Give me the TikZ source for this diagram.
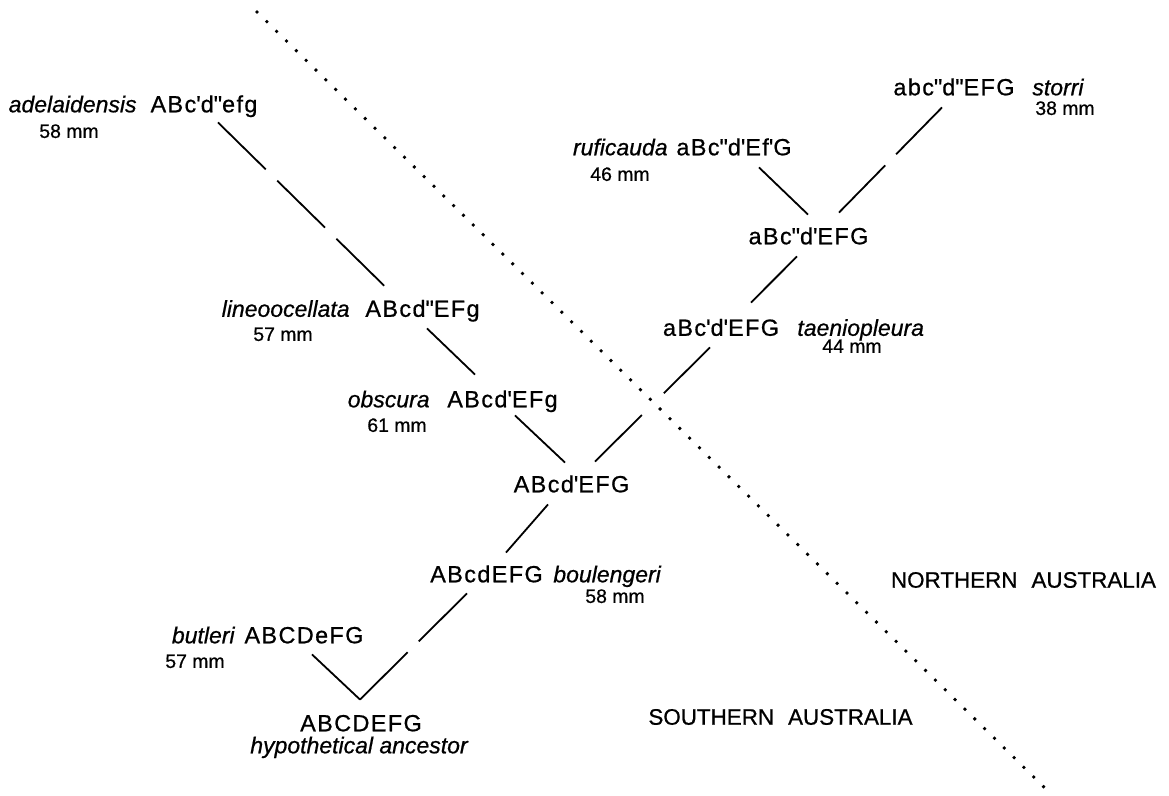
\documentclass[tikz,border=0pt]{standalone}
\usepackage{fontspec}
\setmainfont[FakeBold=0.7]{Liberation Sans}
\newfontfamily\formfont[LetterSpace=6,FakeBold=0.7]{Liberation Sans}
\usetikzlibrary{calc}
\newcommand{\sprime}{\textquotesingle}
\newcommand{\dprime}{\textquotedbl}
\begin{document}
\begin{tikzpicture}[x=0.5pt, y=-0.5pt,
    formula/.style={font=\formfont\fontsize{11.7}{13}\selectfont, inner sep=0pt, text height=8.3pt, text depth=0pt},
    spname/.style={font=\itshape\fontsize{11.5}{13}\selectfont, inner sep=0pt, text height=8.3pt, text depth=0pt},
    size/.style={font=\fontsize{9.7}{11}\selectfont, inner sep=0pt, text height=6.9pt, text depth=0pt},
    region/.style={font=\fontsize{11.2}{13}\selectfont, inner sep=0pt},
    branch/.style={line width=0.9pt}]
  \useasboundingbox (0,0) rectangle (1169,796);

  % Boundary north / south
  \coordinate (dotA) at (257,12);
  \coordinate (dotB) at (1051,794);
  \draw [line width=1.9pt, line cap=round, dash pattern=on 0pt off 6.9pt] (dotA) -- (dotB);
  \node [region] (north) at (1023.5,580) {NORTHERN\hspace{7pt}AUSTRALIA};
  \node [region] (south) at (780.5,717) {SOUTHERN\hspace{7pt}AUSTRALIA};

  % Formulae
  \node [formula] (adelF)  at (204,104)   {ABc\sprime d\dprime efg};
  \node [formula] (lineoF) at (422.5,308.5) {ABcd\dprime EFg};
  \node [formula] (obscF)  at (502.5,399) {ABcd\sprime EFg};
  \node [formula] (midF)   at (571.5,484) {ABcd\sprime EFG};
  \node [formula] (taenF)  at (721,327.5) {aBc\sprime d\sprime EFG};
  \node [formula] (upF)    at (808.5,236) {aBc\dprime d\sprime EFG};
  \node [formula] (rufiF)  at (734,147)   {aBc\dprime d\sprime Ef\sprime G};
  \node [formula] (storF)  at (954,87)    {abc\dprime d\dprime EFG};
  \node [formula] (boulF)  at (486.5,574) {ABcdEFG};
  \node [formula] (butlF)  at (304,635)   {ABCDeFG};
  \node [formula] (ancF)   at (361,723)   {ABCDEFG};

  % Species names
  \node [spname, anchor=east] (adelN)  at (137,104)   {adelaidensis};
  \node [spname, anchor=east] (lineoN) at (350,308.5) {lineoocellata};
  \node [spname, anchor=east] (obscN)  at (430,399)   {obscura};
  \node [spname, anchor=east] (rufiN)  at (668,147)   {ruficauda};
  \node [spname, anchor=east] (butlN)  at (235,635)   {butleri};
  \node [spname, anchor=west] (taenN)  at (797,327.5) {taeniopleura};
  \node [spname, anchor=west] (storN)  at (1032,87)   {storri};
  \node [spname, anchor=west] (boulN)  at (553,574)   {boulengeri};
  \node [spname] (ancN) at (359,745) {hypothetical ancestor};

  % Sizes
  \node [size] (adelS)  at (69,131)   {58 mm};
  \node [size] (lineoS) at (283,334)  {57 mm};
  \node [size] (obscS)  at (397,425)  {61 mm};
  \node [size] (rufiS)  at (620,174)  {46 mm};
  \node [size] (storS)  at (1065,108) {38 mm};
  \node [size] (taenS)  at (852,346)  {44 mm};
  \node [size] (boulS)  at (615,596)  {58 mm};
  \node [size] (butlS)  at (195,661)  {57 mm};

  % Branches
  \draw [branch, dash pattern=on 33.5pt off 8pt] ($(adelF.south)+(14,9.75)$) -- ($(lineoF.north)+(-37.5,-13.25)$);
  \draw [branch] ($(lineoF.south)+(4.5,11.25)$) -- ($(obscF.north)+(-27.5,-15.75)$);
  \draw [branch] ($(obscF.south)+(12.5,7.75)$) -- ($(midF.north)+(-6.5,-12.75)$);
  \draw [branch, dash pattern=on 33pt off 15.5pt] ($(midF.north)+(23.5,-13.75)$) -- ($(taenF.south)+(-11,11.25)$);
  \draw [branch] ($(taenF.north)+(30,-16.25)$) -- ($(upF.south)+(-11.5,11.75)$);
  \draw [branch] ($(upF.north)+(-0.5,-12.75)$) -- ($(rufiF.south)+(25,11.75)$);
  \draw [branch, dash pattern=on 33pt off 7.8pt] ($(upF.north)+(30.5,-14.75)$) -- ($(storF.south)+(-12,11.75)$);
  \draw [branch] ($(midF.south)+(-23.5,11.75)$) -- ($(boulF.north)+(19.5,-12.75)$);
  \draw [branch, dash pattern=on 34pt off 7.8pt] ($(boulF.south)+(-19.5,10.75)$) -- ($(ancF.north)+(-1,-14.75)$);
  \draw [branch] ($(butlF.south)+(8,10.75)$) -- ($(ancF.north)+(-1,-14.75)$);
\end{tikzpicture}
\end{document}
